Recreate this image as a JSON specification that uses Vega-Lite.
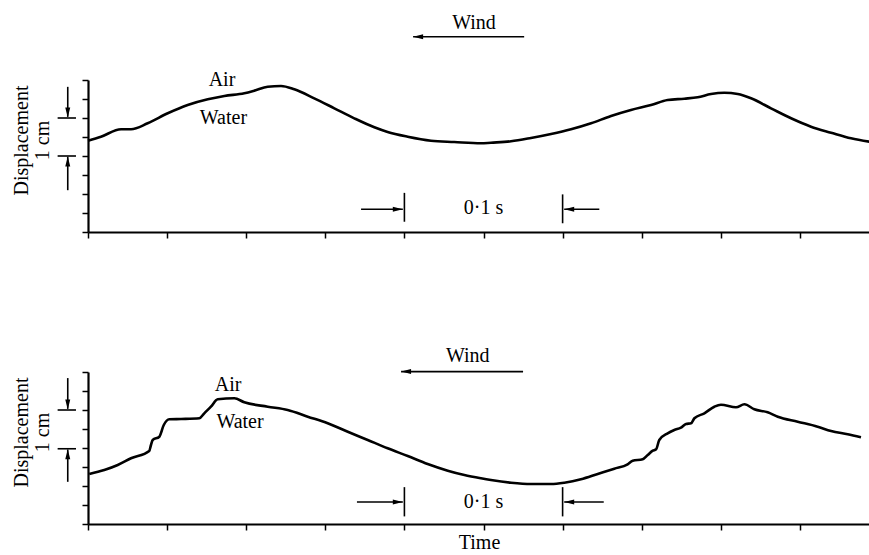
{
  "$schema": "https://vega.github.io/schema/vega-lite/v6.json",
  "background": "white",
  "padding": {"left": 11, "top": 12, "right": 0, "bottom": 0},
  "spacing": 140,
  "bounds": "flush",
  "datasets": {
    "surface": [
      {"panel": "top", "t": 0.0, "d": 2.403},
      {"panel": "top", "t": 0.0082, "d": 2.508},
      {"panel": "top", "t": 0.0209, "d": 2.703},
      {"panel": "top", "t": 0.0272, "d": 2.703},
      {"panel": "top", "t": 0.0377, "d": 2.861},
      {"panel": "top", "t": 0.0504, "d": 3.124},
      {"panel": "top", "t": 0.063, "d": 3.342},
      {"panel": "top", "t": 0.0757, "d": 3.492},
      {"panel": "top", "t": 0.0862, "d": 3.579},
      {"panel": "top", "t": 0.0988, "d": 3.65},
      {"panel": "top", "t": 0.1051, "d": 3.718},
      {"panel": "top", "t": 0.1136, "d": 3.824},
      {"panel": "top", "t": 0.122, "d": 3.842},
      {"panel": "top", "t": 0.1304, "d": 3.755},
      {"panel": "top", "t": 0.143, "d": 3.518},
      {"panel": "top", "t": 0.1557, "d": 3.255},
      {"panel": "top", "t": 0.1683, "d": 2.992},
      {"panel": "top", "t": 0.181, "d": 2.755},
      {"panel": "top", "t": 0.1894, "d": 2.632},
      {"panel": "top", "t": 0.2021, "d": 2.508},
      {"panel": "top", "t": 0.2168, "d": 2.403},
      {"panel": "top", "t": 0.2315, "d": 2.368},
      {"panel": "top", "t": 0.2484, "d": 2.334},
      {"panel": "top", "t": 0.2547, "d": 2.35},
      {"panel": "top", "t": 0.2674, "d": 2.387},
      {"panel": "top", "t": 0.28, "d": 2.474},
      {"panel": "top", "t": 0.2927, "d": 2.579},
      {"panel": "top", "t": 0.3053, "d": 2.703},
      {"panel": "top", "t": 0.318, "d": 2.861},
      {"panel": "top", "t": 0.3306, "d": 3.053},
      {"panel": "top", "t": 0.3432, "d": 3.211},
      {"panel": "top", "t": 0.3559, "d": 3.342},
      {"panel": "top", "t": 0.3664, "d": 3.474},
      {"panel": "top", "t": 0.3769, "d": 3.508},
      {"panel": "top", "t": 0.3854, "d": 3.545},
      {"panel": "top", "t": 0.3938, "d": 3.632},
      {"panel": "top", "t": 0.4022, "d": 3.666},
      {"panel": "top", "t": 0.4107, "d": 3.632},
      {"panel": "top", "t": 0.4191, "d": 3.518},
      {"panel": "top", "t": 0.4317, "d": 3.255},
      {"panel": "top", "t": 0.4444, "d": 2.992},
      {"panel": "top", "t": 0.457, "d": 2.771},
      {"panel": "top", "t": 0.4697, "d": 2.613},
      {"panel": "top", "t": 0.4823, "d": 2.466},
      {"panel": "top", "t": 0.4939, "d": 2.376},
      {"panel": "bottom", "t": 0.0008, "d": 1.316},
      {"panel": "bottom", "t": 0.0103, "d": 1.421},
      {"panel": "bottom", "t": 0.0188, "d": 1.553},
      {"panel": "bottom", "t": 0.0272, "d": 1.729},
      {"panel": "bottom", "t": 0.0387, "d": 1.921},
      {"panel": "bottom", "t": 0.0398, "d": 2.079},
      {"panel": "bottom", "t": 0.0409, "d": 2.211},
      {"panel": "bottom", "t": 0.0451, "d": 2.297},
      {"panel": "bottom", "t": 0.0479, "d": 2.605},
      {"panel": "bottom", "t": 0.0514, "d": 2.755},
      {"panel": "bottom", "t": 0.0588, "d": 2.763},
      {"panel": "bottom", "t": 0.0704, "d": 2.782},
      {"panel": "bottom", "t": 0.0735, "d": 2.913},
      {"panel": "bottom", "t": 0.0777, "d": 3.087},
      {"panel": "bottom", "t": 0.082, "d": 3.282},
      {"panel": "bottom", "t": 0.0925, "d": 3.308},
      {"panel": "bottom", "t": 0.0988, "d": 3.203},
      {"panel": "bottom", "t": 0.1136, "d": 3.087},
      {"panel": "bottom", "t": 0.1262, "d": 3.0},
      {"panel": "bottom", "t": 0.1389, "d": 2.824},
      {"panel": "bottom", "t": 0.1515, "d": 2.65},
      {"panel": "bottom", "t": 0.1642, "d": 2.429},
      {"panel": "bottom", "t": 0.1768, "d": 2.211},
      {"panel": "bottom", "t": 0.1894, "d": 1.992},
      {"panel": "bottom", "t": 0.2021, "d": 1.789},
      {"panel": "bottom", "t": 0.2147, "d": 1.579},
      {"panel": "bottom", "t": 0.2274, "d": 1.403},
      {"panel": "bottom", "t": 0.2379, "d": 1.289},
      {"panel": "bottom", "t": 0.2484, "d": 1.203},
      {"panel": "bottom", "t": 0.2547, "d": 1.158},
      {"panel": "bottom", "t": 0.2674, "d": 1.087},
      {"panel": "bottom", "t": 0.28, "d": 1.053},
      {"panel": "bottom", "t": 0.2927, "d": 1.053},
      {"panel": "bottom", "t": 0.3011, "d": 1.087},
      {"panel": "bottom", "t": 0.3116, "d": 1.176},
      {"panel": "bottom", "t": 0.3222, "d": 1.316},
      {"panel": "bottom", "t": 0.3327, "d": 1.455},
      {"panel": "bottom", "t": 0.3411, "d": 1.571},
      {"panel": "bottom", "t": 0.3443, "d": 1.666},
      {"panel": "bottom", "t": 0.3506, "d": 1.703},
      {"panel": "bottom", "t": 0.3538, "d": 1.816},
      {"panel": "bottom", "t": 0.357, "d": 1.929},
      {"panel": "bottom", "t": 0.3591, "d": 1.966},
      {"panel": "bottom", "t": 0.3611, "d": 2.211},
      {"panel": "bottom", "t": 0.3664, "d": 2.387},
      {"panel": "bottom", "t": 0.3706, "d": 2.474},
      {"panel": "bottom", "t": 0.3748, "d": 2.534},
      {"panel": "bottom", "t": 0.378, "d": 2.632},
      {"panel": "bottom", "t": 0.3812, "d": 2.65},
      {"panel": "bottom", "t": 0.3833, "d": 2.782},
      {"panel": "bottom", "t": 0.3896, "d": 2.913},
      {"panel": "bottom", "t": 0.3959, "d": 3.087},
      {"panel": "bottom", "t": 0.4001, "d": 3.139},
      {"panel": "bottom", "t": 0.4096, "d": 3.071},
      {"panel": "bottom", "t": 0.4149, "d": 3.15},
      {"panel": "bottom", "t": 0.4212, "d": 3.018},
      {"panel": "bottom", "t": 0.4296, "d": 2.939},
      {"panel": "bottom", "t": 0.436, "d": 2.824},
      {"panel": "bottom", "t": 0.4486, "d": 2.692},
      {"panel": "bottom", "t": 0.4612, "d": 2.561},
      {"panel": "bottom", "t": 0.4697, "d": 2.447},
      {"panel": "bottom", "t": 0.4802, "d": 2.361},
      {"panel": "bottom", "t": 0.4886, "d": 2.282}
    ],
    "segments": [
      {"panel": "top", "t": 0.2055, "t2": 0.2757, "d": 5.14, "d2": 5.14},
      {"panel": "top", "t": 0.1726, "t2": 0.199, "d": 0.6, "d2": 0.6},
      {"panel": "top", "t": 0.301, "t2": 0.3232, "d": 0.6, "d2": 0.6},
      {"panel": "top", "t": 0.2, "t2": 0.2, "d": 0.27, "d2": 1.03},
      {"panel": "top", "t": 0.3, "t2": 0.3, "d": 0.23, "d2": 0.99},
      {"panel": "top", "t": -0.0128, "t2": -0.0128, "d": 3.82, "d2": 3.03},
      {"panel": "top", "t": -0.0192, "t2": -0.0076, "d": 3.0, "d2": 3.0},
      {"panel": "top", "t": -0.0192, "t2": -0.0076, "d": 2.0, "d2": 2.0},
      {"panel": "top", "t": -0.0128, "t2": -0.0128, "d": 1.1, "d2": 1.98},
      {"panel": "bottom", "t": 0.1979, "t2": 0.275, "d": 4.01, "d2": 4.01},
      {"panel": "bottom", "t": 0.17, "t2": 0.199, "d": 0.58, "d2": 0.58},
      {"panel": "bottom", "t": 0.301, "t2": 0.326, "d": 0.58, "d2": 0.58},
      {"panel": "bottom", "t": 0.2, "t2": 0.2, "d": 0.2, "d2": 0.97},
      {"panel": "bottom", "t": 0.3, "t2": 0.3, "d": 0.2, "d2": 0.97},
      {"panel": "bottom", "t": -0.0128, "t2": -0.0128, "d": 3.84, "d2": 3.03},
      {"panel": "bottom", "t": -0.0192, "t2": -0.0076, "d": 3.0, "d2": 3.0},
      {"panel": "bottom", "t": -0.0192, "t2": -0.0076, "d": 1.98, "d2": 1.98},
      {"panel": "bottom", "t": -0.0128, "t2": -0.0128, "d": 1.11, "d2": 1.96}
    ],
    "heads": [
      {"panel": "top", "dir": "left", "t": 0.2055, "d": 5.14},
      {"panel": "top", "dir": "right", "t": 0.199, "d": 0.6},
      {"panel": "top", "dir": "left", "t": 0.301, "d": 0.6},
      {"panel": "top", "dir": "down", "t": -0.0128, "d": 3.01},
      {"panel": "top", "dir": "up", "t": -0.0128, "d": 1.99},
      {"panel": "bottom", "dir": "left", "t": 0.1979, "d": 4.01},
      {"panel": "bottom", "dir": "right", "t": 0.199, "d": 0.58},
      {"panel": "bottom", "dir": "left", "t": 0.301, "d": 0.58},
      {"panel": "bottom", "dir": "down", "t": -0.0128, "d": 3.01},
      {"panel": "bottom", "dir": "up", "t": -0.0128, "d": 1.97}
    ],
    "labels": [
      {"panel": "top", "t": 0.244, "d": 5.51, "text": "Wind"},
      {"panel": "top", "t": 0.0847, "d": 4.0, "text": "Air"},
      {"panel": "top", "t": 0.0856, "d": 3.0, "text": "Water"},
      {"panel": "top", "t": 0.25, "d": 0.63, "text": "0·1 s"},
      {"panel": "bottom", "t": 0.24, "d": 4.42, "text": "Wind"},
      {"panel": "bottom", "t": 0.0885, "d": 3.66, "text": "Air"},
      {"panel": "bottom", "t": 0.0961, "d": 2.68, "text": "Water"},
      {"panel": "bottom", "t": 0.25, "d": 0.58, "text": "0·1 s"}
    ]
  },
  "vconcat": [
    {
      "width": 782,
      "height": 152,
      "encoding": {
        "x": {"field": "t", "type": "quantitative", "scale": {"domain": [0, 0.4943], "nice": false, "zero": false},
              "axis": {"values": [0, 0.05, 0.1, 0.15, 0.2, 0.25, 0.3, 0.35, 0.4, 0.45], "title": null}},
        "y": {"field": "d", "type": "quantitative", "scale": {"domain": [0, 4], "nice": false},
              "axis": {"values": [0, 0.5, 1, 1.5, 2, 2.5, 3, 3.5, 4], "title": ["Displacement", "1 cm"], "titleY": 60}}
      },
      "layer": [
        {"data": {"name": "surface"}, "transform": [{"filter": "datum.panel === 'top'"}],
         "mark": {"type": "line", "color": "black", "strokeWidth": 2.6, "interpolate": "monotone"}},
        {"data": {"name": "segments"}, "transform": [{"filter": "datum.panel === 'top'"}],
         "mark": {"type": "rule", "color": "black", "strokeWidth": 1.6},
         "encoding": {"x2": {"field": "t2"}, "y2": {"field": "d2"}}},
        {"data": {"name": "heads"}, "transform": [{"filter": "datum.panel === 'top' && datum.dir === 'left'"}],
         "mark": {"type": "point", "shape": "M0,0L2,-0.5L2,0.5Z", "filled": true, "color": "black", "opacity": 1, "size": 100}},
        {"data": {"name": "heads"}, "transform": [{"filter": "datum.panel === 'top' && datum.dir === 'right'"}],
         "mark": {"type": "point", "shape": "M0,0L-2,-0.5L-2,0.5Z", "filled": true, "color": "black", "opacity": 1, "size": 100}},
        {"data": {"name": "heads"}, "transform": [{"filter": "datum.panel === 'top' && datum.dir === 'down'"}],
         "mark": {"type": "point", "shape": "M0,0L-0.5,-2L0.5,-2Z", "filled": true, "color": "black", "opacity": 1, "size": 100}},
        {"data": {"name": "heads"}, "transform": [{"filter": "datum.panel === 'top' && datum.dir === 'up'"}],
         "mark": {"type": "point", "shape": "M0,0L-0.5,2L0.5,2Z", "filled": true, "color": "black", "opacity": 1, "size": 100}},
        {"data": {"name": "labels"}, "transform": [{"filter": "datum.panel === 'top'"}],
         "mark": {"type": "text", "font": "Liberation Serif", "fontSize": 20, "color": "black", "baseline": "middle", "align": "center"},
         "encoding": {"text": {"field": "text"}}}
      ]
    },
    {
      "width": 782,
      "height": 152,
      "encoding": {
        "x": {"field": "t", "type": "quantitative", "scale": {"domain": [0, 0.4943], "nice": false, "zero": false},
              "axis": {"values": [0, 0.05, 0.1, 0.15, 0.2, 0.25, 0.3, 0.35, 0.4, 0.45], "title": "Time", "titlePadding": 2}},
        "y": {"field": "d", "type": "quantitative", "scale": {"domain": [0, 4], "nice": false},
              "axis": {"values": [0, 0.5, 1, 1.5, 2, 2.5, 3, 3.5, 4], "title": ["Displacement", "1 cm"], "titleY": 60}}
      },
      "layer": [
        {"data": {"name": "surface"}, "transform": [{"filter": "datum.panel === 'bottom'"}],
         "mark": {"type": "line", "color": "black", "strokeWidth": 2.6, "interpolate": "monotone"}},
        {"data": {"name": "segments"}, "transform": [{"filter": "datum.panel === 'bottom'"}],
         "mark": {"type": "rule", "color": "black", "strokeWidth": 1.6},
         "encoding": {"x2": {"field": "t2"}, "y2": {"field": "d2"}}},
        {"data": {"name": "heads"}, "transform": [{"filter": "datum.panel === 'bottom' && datum.dir === 'left'"}],
         "mark": {"type": "point", "shape": "M0,0L2,-0.5L2,0.5Z", "filled": true, "color": "black", "opacity": 1, "size": 100}},
        {"data": {"name": "heads"}, "transform": [{"filter": "datum.panel === 'bottom' && datum.dir === 'right'"}],
         "mark": {"type": "point", "shape": "M0,0L-2,-0.5L-2,0.5Z", "filled": true, "color": "black", "opacity": 1, "size": 100}},
        {"data": {"name": "heads"}, "transform": [{"filter": "datum.panel === 'bottom' && datum.dir === 'down'"}],
         "mark": {"type": "point", "shape": "M0,0L-0.5,-2L0.5,-2Z", "filled": true, "color": "black", "opacity": 1, "size": 100}},
        {"data": {"name": "heads"}, "transform": [{"filter": "datum.panel === 'bottom' && datum.dir === 'up'"}],
         "mark": {"type": "point", "shape": "M0,0L-0.5,2L0.5,2Z", "filled": true, "color": "black", "opacity": 1, "size": 100}},
        {"data": {"name": "labels"}, "transform": [{"filter": "datum.panel === 'bottom'"}],
         "mark": {"type": "text", "font": "Liberation Serif", "fontSize": 20, "color": "black", "baseline": "middle", "align": "center"},
         "encoding": {"text": {"field": "text"}}}
      ]
    }
  ],
  "config": {
    "view": {"stroke": null},
    "axis": {
      "grid": false,
      "labels": false,
      "domainColor": "black",
      "domainWidth": 2.2,
      "tickColor": "black",
      "tickWidth": 1.5,
      "tickSize": 6,
      "titleFont": "Liberation Serif",
      "titleFontSize": 20,
      "titleFontWeight": "normal",
      "titleColor": "black",
      "titleLineHeight": 21
    },
    "axisY": {"titlePadding": 29}
  }
}
